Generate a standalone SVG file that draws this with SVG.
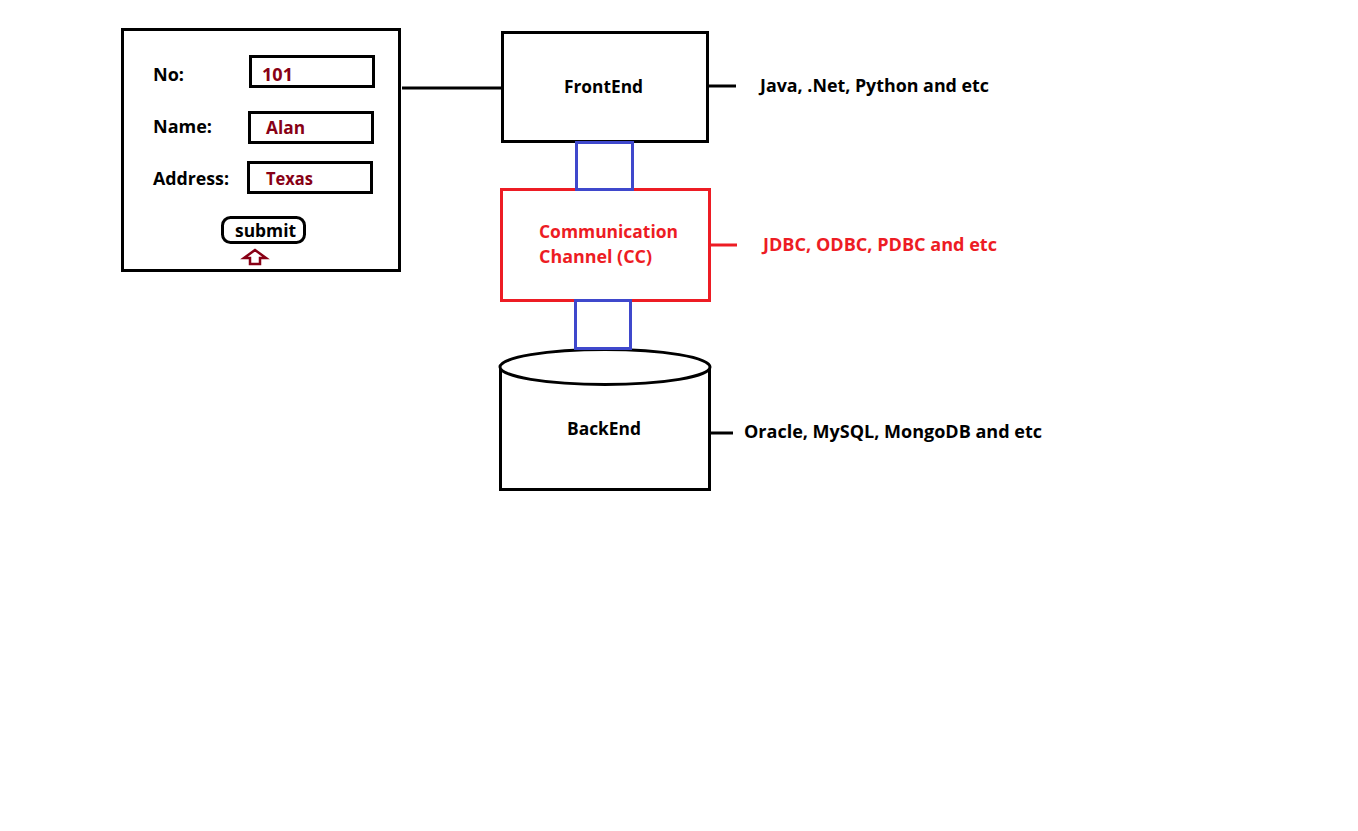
<svg xmlns="http://www.w3.org/2000/svg" width="1358" height="831" viewBox="0 0 1358 831">
<style>
text{font-family:"Open Sans","Liberation Sans",sans-serif;font-weight:bold;font-size:18px}
.k{fill:#000}
.r{fill:#ed1c24}
.d{fill:#880015}
.bx{fill:#fff;stroke:#000;stroke-width:3}
.rb{fill:#fff;stroke:#ed1c24;stroke-width:3}
.bl{fill:none;stroke:#3f48cc;stroke-width:3}
.ln{stroke:#000;stroke-width:3}
.lr{stroke:#ed1c24;stroke-width:3}
</style>
<rect width="1358" height="831" fill="#fff"/>
<g id="form">
<rect class="bx" x="122.5" y="29.5" width="277" height="241"/>
<text class="k" x="153" y="81" textLength="31" lengthAdjust="spacingAndGlyphs">No:</text>
<text class="k" x="153" y="133" textLength="59" lengthAdjust="spacingAndGlyphs">Name:</text>
<text class="k" x="153" y="185" textLength="76" lengthAdjust="spacingAndGlyphs">Address:</text>
<rect class="bx" x="250.5" y="56.5" width="123" height="30"/>
<rect class="bx" x="249.5" y="112.5" width="123" height="30"/>
<rect class="bx" x="248.5" y="162.5" width="123" height="30"/>
<text class="d" x="262" y="81" textLength="31" lengthAdjust="spacingAndGlyphs">101</text>
<text class="d" x="266" y="134" textLength="39" lengthAdjust="spacingAndGlyphs">Alan</text>
<text class="d" x="266" y="185" textLength="47" lengthAdjust="spacingAndGlyphs">Texas</text>
<rect class="bx" x="222.5" y="217.5" width="82" height="25" rx="8"/>
<text class="k" x="235" y="237" textLength="61" lengthAdjust="spacingAndGlyphs">submit</text>
<polygon points="255,250 244,258 250,258 250,264 260,264 260,258 266,258" fill="none" stroke="#880015" stroke-width="2.5"/>
</g>
<g id="frontend">
<rect class="bx" x="502.5" y="32.5" width="205" height="109"/>
<text class="k" x="564" y="93" textLength="79" lengthAdjust="spacingAndGlyphs">FrontEnd</text>
</g>
<g id="frontend-note">
<text class="k" x="760" y="92" textLength="229" lengthAdjust="spacingAndGlyphs">Java, .Net, Python and etc</text>
</g>
<g id="cc">
<rect class="rb" x="501.5" y="189.5" width="208" height="111"/>
<text class="r" x="539" y="238" textLength="139" lengthAdjust="spacingAndGlyphs">Communication</text>
<text class="r" x="539" y="263" textLength="113" lengthAdjust="spacingAndGlyphs">Channel (CC)</text>
</g>
<g id="cc-note">
<text class="r" x="763" y="251" textLength="234" lengthAdjust="spacingAndGlyphs">JDBC, ODBC, PDBC and etc</text>
</g>
<g id="backend">
<path class="bx" d="M500.5,367 L500.5,489.5 L709.5,489.5 L709.5,367"/>
<ellipse class="bx" cx="605" cy="367" rx="105" ry="17.5"/>
<text class="k" x="567" y="435" textLength="74" lengthAdjust="spacingAndGlyphs">BackEnd</text>
</g>
<g id="backend-note">
<text class="k" x="744" y="438" textLength="298" lengthAdjust="spacingAndGlyphs">Oracle, MySQL, MongoDB and etc</text>
</g>
<g id="connectors">
<line class="ln" x1="402" y1="88" x2="502" y2="88"/>
<line class="ln" x1="707" y1="86" x2="736" y2="86"/>
<line class="lr" x1="709" y1="245" x2="737" y2="245"/>
<line class="ln" x1="709" y1="433" x2="733" y2="433"/>
<rect class="bl" x="576.5" y="142.5" width="56" height="47"/>
<rect class="bl" x="575.5" y="300.5" width="55" height="48"/>
</g>
</svg>
